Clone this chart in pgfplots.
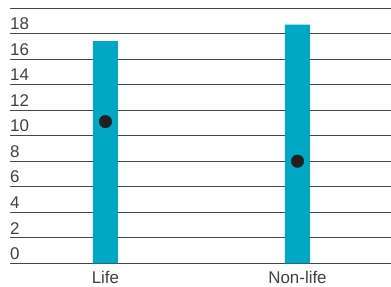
\documentclass[border=0pt]{standalone}
\usepackage{pgfplots}
\pgfplotsset{compat=1.18}
\usepackage{fontspec}
\setmainfont{Liberation Sans}
\definecolor{barblue}{RGB}{0,168,198}
\definecolor{dotblack}{RGB}{35,31,32}
\definecolor{txt}{RGB}{64,64,64}
\definecolor{gridc}{RGB}{70,70,70}
\begin{document}
\begin{tikzpicture}
\useasboundingbox (-10bp,-23.7bp) rectangle (381bp,263.3bp);
\begin{axis}[
  at={(0,0)}, anchor=south west,
  scale only axis, width=381bp, height=255.3bp,
  xmin=-0.497, xmax=1.487, ymin=0, ymax=20,
  axis line style={draw=none},
  ytick={0,2,...,20},
  yticklabels={0,2,4,6,8,10,12,14,16,18,{}},
  xtick={0,1}, xticklabels={Life,Non-life},
  major tick length=0pt,
  ymajorgrids, grid style={gridc, line width=0.7bp},
  /pgf/number format/assume math mode=true,
  ticklabel style={font=\fontsize{17}{20}\selectfont, text=txt},
  yticklabel style={anchor=south west, inner xsep=0pt, inner ysep=3.5bp},
  xticklabel style={yshift=-4bp},
  clip=false,
]
\addplot[ybar, bar width=25bp, fill=barblue, draw=none] coordinates {(0,17.4) (1,18.7)};
\addplot[only marks, mark=*, mark size=6.3bp, mark options={fill=dotblack, draw=dotblack}] coordinates {(0,11.1) (1,8.0)};
\end{axis}
\end{tikzpicture}
\end{document}
